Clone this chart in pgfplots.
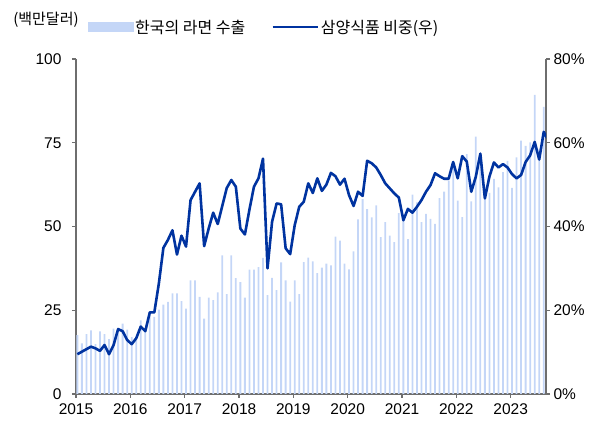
\documentclass[border=0pt]{standalone}
\usepackage{fontspec}
\setmainfont{Liberation Sans}
\newfontfamily\kr{Noto Sans CJK KR}
\usepackage{pgfplots}
\usepackage{pgfplotstable}
\pgfplotsset{compat=1.18}

\definecolor{barc}{RGB}{196,214,247}
\definecolor{linec}{RGB}{0,51,160}
\definecolor{axc}{RGB}{110,110,110}

% monthly ramen exports (USD mn), index 0 = 2015-01
\pgfplotstableread{
m v
0 17.6
1 15.1
2 17.9
3 19.0
4 14.9
5 18.7
6 17.9
7 16.4
8 19.5
9 19.5
10 21.0
11 19.2
12 17.0
13 16.1
14 22.0
15 18.5
16 24.5
17 23.0
18 25.2
19 26.7
20 27.5
21 30.0
22 30.0
23 27.7
24 25.5
25 33.9
26 33.9
27 29.0
28 22.5
29 28.8
30 28.0
31 30.3
32 41.4
33 29.8
34 41.4
35 34.6
36 33.4
37 28.8
38 37.1
39 37.1
40 37.9
41 40.6
42 29.5
43 34.7
44 31.0
45 39.3
46 33.9
47 27.6
48 33.9
49 29.8
50 39.4
51 40.7
52 39.6
53 36.1
54 37.7
55 38.9
56 38.4
57 47.0
58 45.8
59 38.9
60 37.2
61 42.6
62 52.1
63 58.2
64 55.2
65 52.7
66 56.3
67 46.8
68 51.3
69 47.3
70 45.3
71 54.0
72 53.0
73 46.2
74 59.5
75 57.2
76 51.3
77 53.8
78 52.3
79 50.8
80 58.5
81 60.4
82 63.7
83 67.2
84 57.7
85 52.8
86 71.6
87 57.5
88 76.8
89 68.0
90 60.7
91 60.0
92 64.2
93 61.7
94 66.2
95 69.6
96 61.5
97 70.6
98 75.6
99 74.1
100 75.1
101 89.3
102 73.0
103 85.7
104 89.5
}\exports

% Samyang share (%), right axis
\pgfplotstableread{
m v
0 9.5
1 10.1
2 10.7
3 11.3
4 10.9
5 10.3
6 11.7
7 9.5
8 11.7
9 15.5
10 15.0
11 12.9
12 11.9
13 13.3
14 16.1
15 15.0
16 19.5
17 19.5
18 26.4
19 34.9
20 36.8
21 39.1
22 33.3
23 37.8
24 35.2
25 46.3
26 48.3
27 50.3
28 35.3
29 39.5
30 43.3
31 40.6
32 44.9
33 49.2
34 51.1
35 49.5
36 39.5
37 38.1
38 44.0
39 49.5
40 51.5
41 56.2
42 30.0
43 41.1
44 45.5
45 45.3
46 34.8
47 33.4
48 40.3
49 44.7
50 45.9
51 50.3
52 48.0
53 51.5
54 48.5
55 50.0
56 52.8
57 52.0
58 50.0
59 51.4
60 47.5
61 44.9
62 48.3
63 47.3
64 55.7
65 55.1
66 54.1
67 52.3
68 50.3
69 49.1
70 47.9
71 46.9
72 41.5
73 44.2
74 43.3
75 44.7
76 46.3
77 48.3
78 49.9
79 52.7
80 52.0
81 51.4
82 51.4
83 55.4
84 51.5
85 56.8
86 55.5
87 48.3
88 51.9
89 57.4
90 46.7
91 51.9
92 55.3
93 54.1
94 54.9
95 54.1
96 52.5
97 51.5
98 52.3
99 55.4
100 57.0
101 60.2
102 56.0
103 62.6
104 60.6
}\share

\begin{document}
\begin{tikzpicture}[x=1pt,y=1pt]
\path[use as bounding box] (0,0) rectangle (603,423);
\pgfplotsset{
  base/.style={
    at={(76pt,29pt)}, anchor=south west,
    scale only axis, width=470pt, height=335pt,
    xmin=0, xmax=103.8,
    axis line style={draw=axc, line width=1.2pt},
    tick style={draw=axc, line width=1.2pt},
    major tick length=4pt,
    tick align=outside,
    tick label style={font=\fontsize{15.5}{17}\selectfont},
    /pgf/number format/assume math mode=true,
    clip=true,
  }
}
\begin{axis}[base,
  axis x line*=bottom, axis y line*=left,
  ymin=0, ymax=100,
  ytick={0,25,50,75,100},
  yticklabel style={xshift=-7pt},
  xtick={0,12,...,96},
  xticklabels={2015,2016,2017,2018,2019,2020,2021,2022,2023},
  xticklabel style={yshift=-2pt},
  ybar, bar width=1.8pt,
]
\addplot[fill=barc, draw=none] table[x expr=\thisrow{m}+0.3, y=v] {\exports};
\end{axis}
\begin{axis}[base,
  axis x line=none, axis y line*=right,
  ymin=0, ymax=80,
  ytick={0,20,40,60,80},
  yticklabel={\pgfmathprintnumber{\tick}\%},
  legend columns=2,
  legend style={draw=none, fill=none, at={(0.018,1.095)}, anchor=west,
    font=\kr\fontsize{16}{18}\selectfont,
    /tikz/every even column/.append style={column sep=24pt}},
]
\addlegendimage{legend image code/.code={\fill[barc] (0pt,-4.5pt) rectangle (45pt,4.5pt);}}
\addlegendentry{한국의 라면 수출}
\addplot[linec, line width=2.6pt, line join=round,
  legend image code/.code={\draw[linec, line width=2.6pt] (0pt,0pt) -- (45pt,0pt);}]
  table[x expr=\thisrow{m}+0.3, y=v] {\share};
\addlegendentry{삼양식품 비중(우)}
\end{axis}
\node[anchor=center, font=\kr\fontsize{15}{17}\selectfont] at (46,403) {(백만달러)};
\end{tikzpicture}
\end{document}
